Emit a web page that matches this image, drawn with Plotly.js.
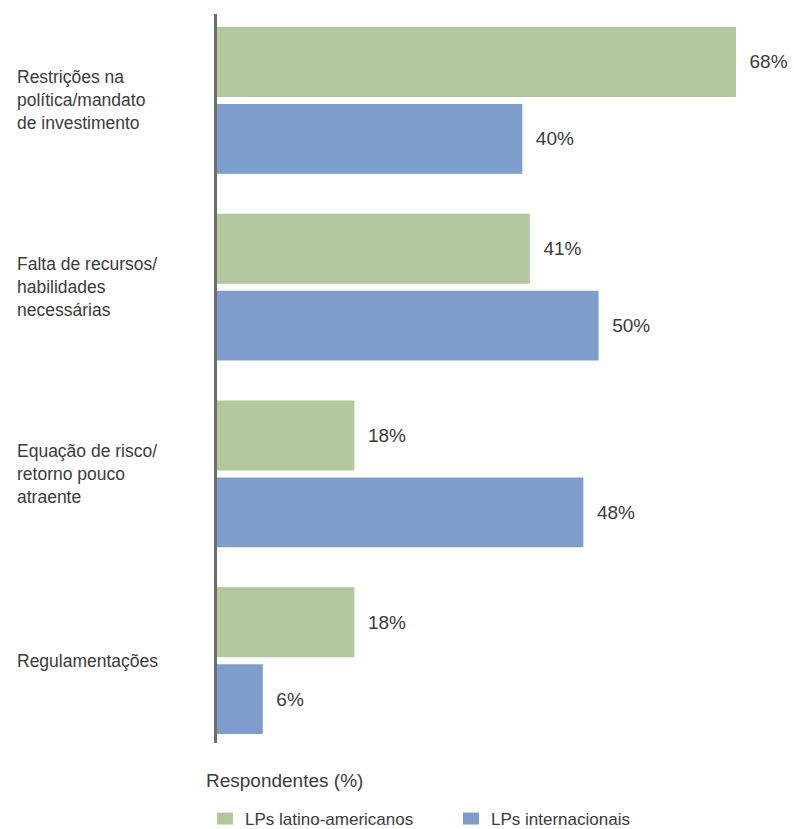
<!DOCTYPE html>
<html>
<head>
<meta charset="utf-8">
<script src="https://cdn.plot.ly/plotly-3.0.1.min.js"></script>
<style>
  html, body { margin: 0; padding: 0; background: #ffffff; }
  #chart { width: 794px; height: 829px; }
</style>
</head>
<body>
<div id="chart"></div>
<script>
// ---- data ----
const categories = [
  "Restrições na<br>política/mandato<br>de investimento",
  "Falta de recursos/<br>habilidades<br>necessárias",
  "Equação de risco/<br>retorno pouco<br>atraente",
  "Regulamentações"
];
const seriesNames = ["LPs latino-americanos", "LPs internacionais"];
const latinoValues = [68, 41, 18, 18];
const internacionalValues = [40, 50, 48, 6];
const axisTitle = "Respondentes (%)";

// ---- styles ----
const FONT = "'Liberation Sans', Arial, Helvetica, sans-serif";
const TEXT_COLOR = "#3b3b3b";
const GREEN = "#b1c79e";
const BLUE = "#7f9dca";
const NB = "\u00a0\u00a0";

function barTrace(name, values, color) {
  return {
    type: "bar",
    orientation: "h",
    name: name,
    y: categories,
    x: values,
    marker: { color: color, line: { width: 0 } },
    texttemplate: NB + "%{x}%",
    textposition: "outside",
    cliponaxis: false,
    textfont: { family: FONT, size: 19, color: TEXT_COLOR },
    hoverinfo: "skip"
  };
}

const data = [
  barTrace(seriesNames[0], latinoValues, GREEN),
  barTrace(seriesNames[1], internacionalValues, BLUE)
];

const annotations = categories.map(c => ({
  xref: "paper", yref: "y",
  x: (15 - 217) / 577, y: c,
  xanchor: "left", yanchor: "middle", align: "left",
  text: c, showarrow: false,
  font: { family: FONT, size: 17.5, color: TEXT_COLOR }
}));
annotations.push({
  xref: "paper", yref: "paper",
  x: (204 - 217) / 577, y: -37 / 729,
  xanchor: "left", yanchor: "middle",
  text: axisTitle, showarrow: false,
  font: { family: FONT, size: 19, color: TEXT_COLOR }
});

const layout = {
  width: 794, height: 829,
  margin: { l: 217, r: 0, t: 14, b: 86, pad: 0 },
  paper_bgcolor: "#ffffff",
  plot_bgcolor: "#ffffff",
  barmode: "group",
  bargap: 0.1765,
  bargroupgap: 0.0909,
  showlegend: true,
  legend: {
    orientation: "h",
    xref: "container", yref: "container",
    x: 205 / 794, xanchor: "left",
    y: 28 / 829, yanchor: "top",
    entrywidth: 201,
    font: { family: FONT, size: 17, color: TEXT_COLOR },
    itemclick: false, itemdoubleclick: false,
    bgcolor: "rgba(0,0,0,0)"
  },
  xaxis: {
    range: [0, 75.6],
    showgrid: false, zeroline: false, showticklabels: false,
    showline: false, ticks: "", fixedrange: true
  },
  yaxis: {
    type: "category",
    range: [3.441, -0.4626],
    showgrid: false, zeroline: false, showticklabels: false,
    showline: true, linecolor: "#6d6d6d", linewidth: 3,
    ticks: "", fixedrange: true
  },
  annotations: annotations
};

Plotly.newPlot("chart", data, layout, { staticPlot: true, displayModeBar: false }).then(gd => {
  gd.querySelectorAll(".legend .legendpoints path").forEach(p => {
    p.setAttribute("d", "M8,6H-8V-6H8Z");
  });
});
</script>
</body>
</html>
